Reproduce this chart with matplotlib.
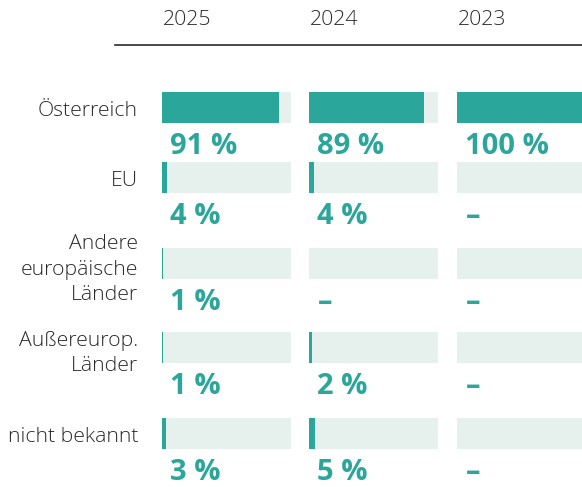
import matplotlib.pyplot as plt
from matplotlib import transforms

plt.rcParams['font.family'] = ['Open Sans', 'DejaVu Sans']

years = ['2025', '2024', '2023']
regions = ['Österreich', 'EU', 'Andere\neuropäische\nLänder', 'Außereurop.\nLänder', 'nicht bekannt']
# None = kein Wert (Strich)
values = {
    '2025': [91, 4, 1, 1, 3],
    '2024': [89, 4, None, 2, 5],
    '2023': [100, None, None, None, None],
}

teal = '#2aa69a'
light = '#e6f1ee'
textcol = '#2b2b2b'

W, H = 582, 487
fig = plt.figure(figsize=(W / 100, H / 100), dpi=100)

# row centres in pixels (from top)
row_y = [107.5, 177.5, 263.5, 347.5, 433.5]
bar_h = 31
col_left = [162, 309, 457]
col_w = 129

for i, yr in enumerate(years):
    ax = fig.add_axes([col_left[i] / W, 0, col_w / W, 1])
    ax.set_xlim(0, 100)
    ax.set_ylim(H, 0)
    ax.axis('off')
    ax.barh(row_y, [100] * len(row_y), height=bar_h, color=light, zorder=1)
    vals = [v if v is not None else 0 for v in values[yr]]
    ax.barh(row_y, vals, height=bar_h, color=teal, zorder=2)
    for y, v in zip(row_y, values[yr]):
        lab = f'{v} %' if v is not None else '–'
        ax.text(6.5, y + 39, lab, color=teal, fontsize=21, fontweight='bold',
                ha='left', va='center')
    fig.text((col_left[i] + 1) / W, 1 - 20 / H, yr, color=textcol, fontsize=15.3,
             fontweight='light', ha='left', va='center')
    if i == 0:
        tr = transforms.blended_transform_factory(ax.transAxes, ax.transData)
        for y, r in zip(row_y, regions):
            dy = 3 if '\n' not in r else 6
            ax.text(-24 / col_w, y + dy, r, transform=tr, ha='right', va='center',
                    fontsize=15.3, fontweight='light', color=textcol,
                    linespacing=1.38, clip_on=False)

fig.add_artist(plt.Line2D([115 / W, 1], [1 - 45 / H, 1 - 45 / H], color=textcol,
                          linewidth=1.2))

fig.savefig('out.png', dpi=100)
